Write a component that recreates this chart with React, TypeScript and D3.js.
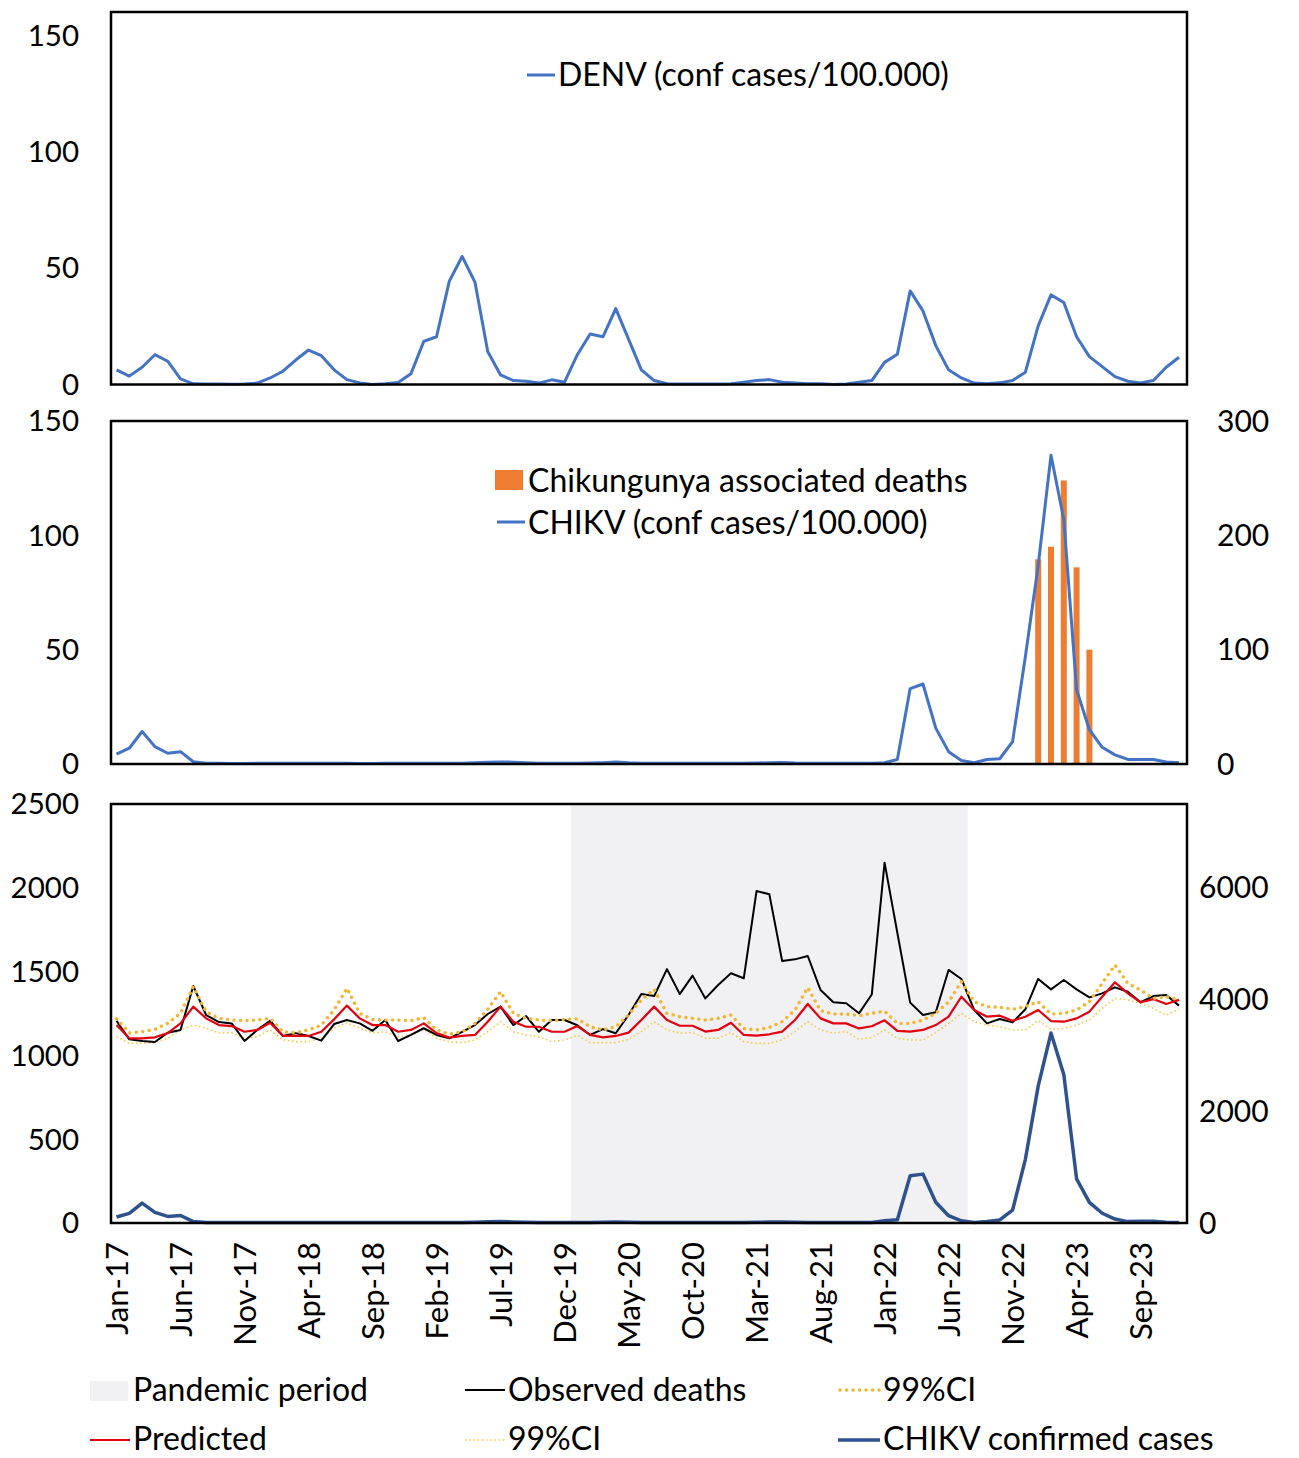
import { line, scaleLinear, timeMonth, timeFormat } from "d3";

const W = 1299;
const H = 1458;

// Monthly categories Jan-17 .. Dec-23
const months = timeMonth.range(new Date(2017, 0, 1), new Date(2024, 0, 1)).map(timeFormat("%b-%y"));
const tickLabels = [
  "Jan-17", "Jun-17", "Nov-17", "Apr-18", "Sep-18", "Feb-19", "Jul-19", "Dec-19", "May-20",
  "Oct-20", "Mar-21", "Aug-21", "Jan-22", "Jun-22", "Nov-22", "Apr-23", "Sep-23",
];

// DENV confirmed cases per 100.000
const denv = [
  6.3, 3.6, 7.4, 12.8, 10, 2.4, 0.3, 0.2, 0.2, 0.1, 0.2, 0.6,
  2.8, 5.7, 10.5, 14.8, 12.4, 6.3, 2.1, 0.7, 0, 0.3, 0.9, 4.6,
  18.5, 20.5, 44.4, 55, 44, 14.2, 4.1, 1.7, 1.4, 0.6, 2.0, 1.0,
  12.8, 21.7, 20.5, 32.6, 19.5, 6.3, 1.7, 0.3, 0.2, 0.2, 0.2, 0.2,
  0.3, 1.0, 1.7, 2.1, 1.0, 0.6, 0.3, 0.3, 0, 0.2, 1.0, 1.7,
  9.5, 13, 40.2, 31.6, 16.7, 6.3, 2.8, 0.6, 0.3, 0.7, 1.7, 5.3,
  25.2, 38.5, 35.2, 20.5, 12, 7.7, 3.4, 1.4, 0.7, 1.7, 7.4, 11.7,
];

// CHIKV confirmed cases per 100.000
const chikvRate = [
  4.3, 6.9, 14.2, 7.6, 4.7, 5.4, 1, 0.3, 0.3, 0.2, 0.2, 0.3,
  0.3, 0.3, 0.3, 0.3, 0.3, 0.3, 0.3, 0.2, 0.2, 0.3, 0.3, 0.3,
  0.3, 0.3, 0.3, 0.3, 0.6, 0.8, 0.9, 0.8, 0.5, 0.3, 0.3, 0.3,
  0.3, 0.4, 0.6, 0.9, 0.5, 0.3, 0.3, 0.3, 0.3, 0.3, 0.3, 0.3,
  0.3, 0.3, 0.4, 0.6, 0.7, 0.4, 0.3, 0.3, 0.3, 0.3, 0.3, 0.3,
  0.6, 2, 33, 35, 15.7, 5.4, 1.5, 0.6, 2, 2.3, 9.8, 47,
  86.8, 135, 107, 32.5, 15, 7.3, 4, 2, 2, 2, 0.9, 0.6,
];

// Chikungunya associated deaths (secondary axis)
const chikDeaths = [
  0, 0, 0, 0, 0, 0, 0, 0, 0, 0, 0, 0,
  0, 0, 0, 0, 0, 0, 0, 0, 0, 0, 0, 0,
  0, 0, 0, 0, 0, 0, 0, 0, 0, 0, 0, 0,
  0, 0, 0, 0, 0, 0, 0, 0, 0, 0, 0, 0,
  0, 0, 0, 0, 0, 0, 0, 0, 0, 0, 0, 0,
  0, 0, 0, 0, 0, 0, 0, 0, 0, 0, 0, 0,
  179, 190, 248, 172, 100, 0, 0, 0, 0, 0, 0, 0,
];

const observed = [
  1207, 1096, 1086, 1080, 1135, 1152, 1414, 1241, 1199, 1191, 1086, 1152,
  1207, 1116, 1133, 1116, 1088, 1187, 1211, 1191, 1147, 1211, 1086, 1122,
  1162, 1122, 1102, 1141, 1181, 1247, 1291, 1181, 1235, 1141, 1211, 1211,
  1180, 1122, 1157, 1132, 1241, 1366, 1354, 1515, 1366, 1476, 1340, 1420,
  1490, 1460, 1981, 1961, 1563, 1573, 1593, 1390, 1317, 1311, 1251, 1363,
  2150, 1730, 1315, 1241, 1257, 1510, 1456, 1271, 1191, 1217, 1197, 1275,
  1456, 1394, 1450, 1394, 1346, 1370, 1406, 1380, 1317, 1354, 1360, 1297,
];

const predicted = [
  1181, 1102, 1102, 1108, 1133, 1191, 1291, 1221, 1181, 1175, 1141, 1152,
  1195, 1116, 1116, 1116, 1141, 1215, 1297, 1221, 1181, 1181, 1141, 1152,
  1191, 1133, 1106, 1116, 1122, 1201, 1291, 1201, 1171, 1171, 1141, 1141,
  1175, 1122, 1108, 1116, 1136, 1211, 1291, 1211, 1177, 1177, 1142, 1152,
  1195, 1122, 1118, 1126, 1142, 1211, 1307, 1221, 1191, 1191, 1161, 1174,
  1209, 1146, 1142, 1152, 1181, 1231, 1350, 1271, 1231, 1237, 1207, 1231,
  1271, 1205, 1201, 1221, 1261, 1350, 1436, 1370, 1317, 1336, 1307, 1331,
];

const upperCI = [
  1219, 1135, 1141, 1156, 1191, 1251, 1410, 1261, 1221, 1211, 1207, 1211,
  1221, 1141, 1135, 1152, 1181, 1271, 1400, 1251, 1215, 1211, 1211, 1207,
  1225, 1152, 1127, 1141, 1191, 1275, 1380, 1251, 1221, 1211, 1207, 1215,
  1218, 1171, 1152, 1171, 1241, 1331, 1394, 1251, 1231, 1221, 1211, 1221,
  1241, 1161, 1152, 1167, 1201, 1271, 1404, 1267, 1247, 1247, 1237, 1251,
  1264, 1191, 1191, 1211, 1251, 1320, 1440, 1320, 1291, 1287, 1275, 1291,
  1320, 1247, 1251, 1271, 1320, 1430, 1539, 1430, 1390, 1340, 1350, 1331,
];

const lowerCI = [
  1112, 1072, 1072, 1076, 1102, 1152, 1181, 1162, 1133, 1135, 1102, 1112,
  1152, 1092, 1082, 1082, 1102, 1162, 1195, 1162, 1135, 1141, 1112, 1122,
  1156, 1102, 1082, 1076, 1092, 1141, 1201, 1141, 1122, 1112, 1082, 1092,
  1120, 1076, 1076, 1076, 1096, 1142, 1201, 1152, 1132, 1136, 1102, 1102,
  1136, 1082, 1072, 1072, 1092, 1142, 1201, 1152, 1132, 1142, 1096, 1107,
  1152, 1102, 1092, 1092, 1136, 1191, 1251, 1201, 1181, 1171, 1152, 1152,
  1207, 1156, 1161, 1181, 1211, 1281, 1340, 1331, 1311, 1281, 1241, 1275,
];

// CHIKV confirmed cases (secondary axis of the bottom panel)
const chikvCases = [
  108, 172, 355, 190, 118, 135, 25, 10, 8, 8, 8, 8,
  8, 8, 8, 8, 8, 8, 8, 8, 8, 8, 8, 8,
  8, 8, 8, 8, 15, 22, 25, 20, 12, 8, 8, 8,
  8, 10, 15, 20, 12, 8, 8, 8, 8, 8, 8, 8,
  8, 8, 12, 18, 20, 12, 8, 8, 8, 8, 8, 10,
  40, 60, 845, 875, 370, 130, 40, 10, 25, 55, 230, 1140,
  2450, 3400, 2660, 790, 370, 175, 70, 25, 30, 30, 15, 10,
];

const pandemicStart = "Jan-20";
const pandemicEnd = "Jul-22";

const FONT = "Lato, 'Open Sans', sans-serif";
const BLUE = "#4472c4";
const DARK_BLUE = "#2f528f";
const ORANGE = "#ed7d31";
const GOLD = "#f2b632";
const PALE = "#f3cc4c";
const LEGEND_SIZE = 32;

const x = scaleLinear().domain([0, months.length - 1]).range([116.5, 1179]);
const plotLeft = 111;
const plotRight = 1187;

type Panel = { top: number; bottom: number; max: number; ticks: number[] };
const p1: Panel = { top: 12, bottom: 384.5, max: 160, ticks: [0, 50, 100, 150] };
const p2: Panel = { top: 421, bottom: 764, max: 150, ticks: [0, 50, 100, 150] };
const p3: Panel = { top: 804, bottom: 1223, max: 2500, ticks: [0, 500, 1000, 1500, 2000, 2500] };

const y1 = scaleLinear().domain([0, p1.max]).range([p1.bottom, p1.top]);
const y2 = scaleLinear().domain([0, p2.max]).range([p2.bottom, p2.top]);
const y2r = scaleLinear().domain([0, 300]).range([p2.bottom, p2.top]);
const y3 = scaleLinear().domain([0, p3.max]).range([p3.bottom, p3.top]);
const y3r = scaleLinear().domain([0, 7500]).range([p3.bottom, p3.top]);

const path = (vals: number[], y: (v: number) => number) =>
  line<number>()
    .x((_, i) => x(i))
    .y((v) => y(v))(vals) ?? "";

function LeftTicks({ p, y }: { p: Panel; y: (v: number) => number }) {
  return (
    <g fontSize={29.5} textAnchor="end" fill="#000">
      {p.ticks.map((t) => (
        <text key={t} x={79} y={y(t)} dy="0.35em">
          {t}
        </text>
      ))}
    </g>
  );
}

function RightTicks({ ticks, y, x0 }: { ticks: number[]; y: (v: number) => number; x0: number }) {
  return (
    <g fontSize={30} textAnchor="start" fill="#000">
      {ticks.map((t) => (
        <text key={t} x={x0} y={y(t)} dy="0.35em">
          {t}
        </text>
      ))}
    </g>
  );
}

export default function App() {
  const i0 = months.indexOf(pandemicStart);
  const i1 = months.indexOf(pandemicEnd);
  const step = x(1) - x(0);
  const barW = 6;

  return (
    <svg width={W} height={H} style={{ display: "block", marginTop: -8, marginLeft: -8 }} fontFamily={FONT}>
      <rect width={W} height={H} fill="#fff" />

      {/* Panel 1: DENV */}
      <path d={path(denv, y1)} fill="none" stroke={BLUE} strokeWidth={3} strokeLinejoin="round" />
      <rect x={plotLeft} y={p1.top} width={plotRight - plotLeft} height={p1.bottom - p1.top} fill="none" stroke="#000" strokeWidth={2.5} />
      <LeftTicks p={p1} y={y1} />
      <line x1={527} x2={555} y1={75} y2={75} stroke={BLUE} strokeWidth={3} />
      <text x={558} y={86} fontSize={LEGEND_SIZE}>DENV (conf cases/100.000)</text>

      {/* Panel 2: CHIKV rate + deaths */}
      {chikDeaths.map((d, i) =>
        d > 0 ? (
          <rect key={i} x={x(i) - barW / 2} y={y2r(d)} width={barW} height={y2r(0) - y2r(d)} fill={ORANGE} />
        ) : null
      )}
      <path d={path(chikvRate, y2)} fill="none" stroke={BLUE} strokeWidth={3} strokeLinejoin="round" />
      <rect x={plotLeft} y={p2.top} width={plotRight - plotLeft} height={p2.bottom - p2.top} fill="none" stroke="#000" strokeWidth={2.5} />
      <LeftTicks p={p2} y={y2} />
      <RightTicks ticks={[0, 100, 200, 300]} y={y2r} x0={1217} />
      <rect x={495} y={470} width={28} height={20} fill={ORANGE} />
      <text x={528} y={492} fontSize={LEGEND_SIZE}>Chikungunya associated deaths</text>
      <line x1={497} x2={525} y1={522} y2={522} stroke={BLUE} strokeWidth={3} />
      <text x={528} y={534} fontSize={LEGEND_SIZE}>CHIKV (conf cases/100.000)</text>

      {/* Panel 3: deaths, predicted, CI, CHIKV cases */}
      <rect x={x(i0) - step / 2} y={p3.top} width={x(i1) - x(i0) + step} height={p3.bottom - p3.top} fill="#f1f0f2" />
      <path d={path(lowerCI, y3)} fill="none" stroke={PALE} strokeWidth={1.6} strokeDasharray="1.6 2.6" />
      <path d={path(observed, y3)} fill="none" stroke="#000" strokeWidth={2} strokeLinejoin="round" />
      <path d={path(predicted, y3)} fill="none" stroke="#e3000f" strokeWidth={2.2} strokeLinejoin="round" />
      <path d={path(upperCI, y3)} fill="none" stroke={GOLD} strokeWidth={3.4} strokeDasharray="0.1 6.4" strokeLinecap="round" />
      <path d={path(chikvCases, y3r)} fill="none" stroke={DARK_BLUE} strokeWidth={3.5} strokeLinejoin="round" />
      <rect x={plotLeft} y={p3.top} width={plotRight - plotLeft} height={p3.bottom - p3.top} fill="none" stroke="#000" strokeWidth={2.5} />
      <LeftTicks p={p3} y={y3} />
      <RightTicks ticks={[0, 2000, 4000, 6000]} y={y3r} x0={1199} />

      {/* x axis labels */}
      <g fontSize={31} textAnchor="end">
        {tickLabels.map((t) => {
          const i = months.indexOf(t);
          return (
            <text key={t} transform={`translate(${x(i) + 11},1242) rotate(-90)`}>
              {t}
            </text>
          );
        })}
      </g>

      {/* bottom legend */}
      <g fontSize={LEGEND_SIZE}>
        <rect x={90} y={1381} width={38} height={20} fill="#f1f0f2" />
        <text x={133} y={1401}>Pandemic period</text>
        <line x1={465} x2={505} y1={1390} y2={1390} stroke="#000" strokeWidth={2} />
        <text x={508} y={1401}>Observed deaths</text>
        <line x1={840} x2={880} y1={1390} y2={1390} stroke={GOLD} strokeWidth={3.4} strokeDasharray="0.1 6.4" strokeLinecap="round" />
        <text x={883} y={1401}>99%CI</text>
        <line x1={90} x2={130} y1={1440} y2={1440} stroke="#e3000f" strokeWidth={2.2} />
        <text x={133} y={1450}>Predicted</text>
        <line x1={465} x2={505} y1={1440} y2={1440} stroke={PALE} strokeWidth={1.6} strokeDasharray="1.6 2.6" />
        <text x={508} y={1450}>99%CI</text>
        <line x1={838} x2={880} y1={1440} y2={1440} stroke={DARK_BLUE} strokeWidth={3.5} />
        <text x={883} y={1450}>CHIKV confirmed cases</text>
      </g>
    </svg>
  );
}
